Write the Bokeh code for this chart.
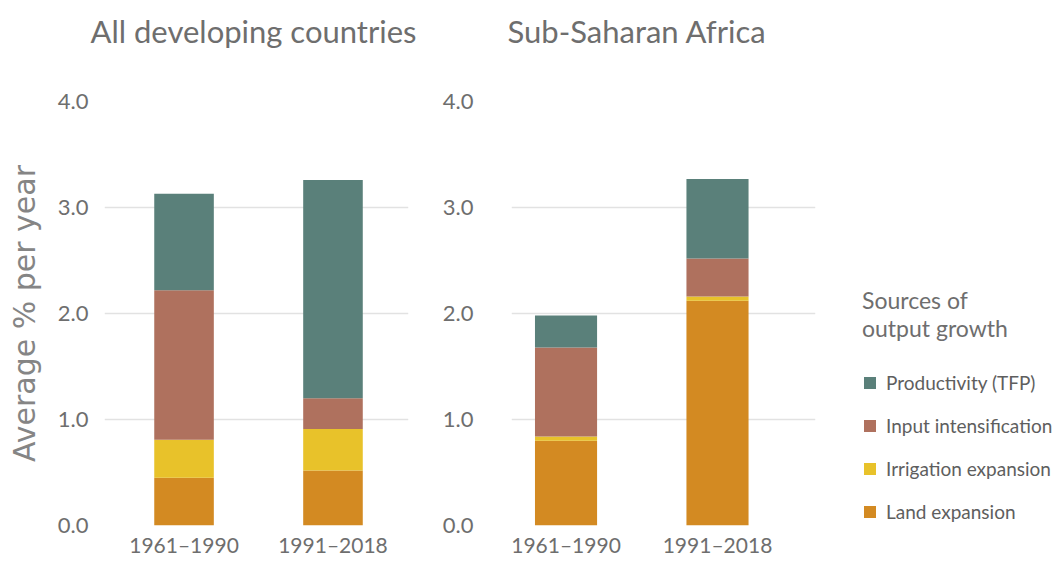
from bokeh.plotting import figure
from bokeh.layouts import row
from bokeh.models import (ColumnDataSource, Range1d, FixedTicker, NumeralTickFormatter,
                          Legend, LegendItem, Title)
from bokeh.embed import file_html
from bokeh.resources import INLINE

# ---- data ----
periods = ["1961–1990", "1991–2018"]
sources = ["Land expansion", "Irrigation expansion", "Input intensification", "Productivity (TFP)"]
colors = ["#D38A22", "#E8C22A", "#AF715E", "#5A807A"]

all_dev_land = [0.45, 0.52]
all_dev_irrigation = [0.36, 0.39]
all_dev_input = [1.41, 0.29]
all_dev_tfp = [0.91, 2.06]

ssa_land = [0.80, 2.12]
ssa_irrigation = [0.04, 0.04]
ssa_input = [0.84, 0.36]
ssa_tfp = [0.30, 0.75]

y_ticks = [0, 1, 2, 3, 4]
keys = ["land", "irrigation", "input", "tfp"]

TEXT = "#6e6e6e"
FONT = "Lato"


def make_panel(title, land, irr, inp, tfp, xr, bar_w, min_left, min_right, label_standoff, title_offset):
    src = ColumnDataSource(dict(x=list(range(len(periods))), land=land, irrigation=irr, input=inp, tfp=tfp))
    p = figure(frame_width=304, frame_height=424, x_range=Range1d(*xr), y_range=Range1d(0, 4),
               output_backend="svg", toolbar_location=None, title=None,
               min_border_left=min_left, min_border_right=min_right,
               min_border_top=101, min_border_bottom=33)
    rs = p.vbar_stack(keys, x="x", width=bar_w, source=src, color=colors, line_color=None)
    # spacer (closest to the frame) then the panel title above it
    p.add_layout(Title(text=" ", text_font_size="10px", standoff=37), "above")
    p.add_layout(Title(text=title, text_font=FONT, text_font_size="31px", text_font_style="normal",
                       text_color=TEXT, standoff=4, offset=title_offset, align="left",
                       vertical_align="bottom"), "above")
    p.outline_line_color = None
    p.background_fill_color = "white"
    p.border_fill_color = "white"
    p.xgrid.grid_line_color = None
    p.ygrid.grid_line_color = "#e2e2e2"
    p.ygrid.grid_line_width = 1.5
    p.yaxis.ticker = FixedTicker(ticks=y_ticks)
    p.yaxis.formatter = NumeralTickFormatter(format="0.0")
    p.xaxis.ticker = FixedTicker(ticks=list(range(len(periods))))
    p.xaxis.major_label_overrides = {i: s for i, s in enumerate(periods)}
    for ax in (p.xaxis[0], p.yaxis[0]):
        ax.axis_line_color = None
        ax.major_tick_line_color = None
        ax.minor_tick_line_color = None
        ax.major_tick_out = 0
        ax.major_tick_in = 0
        ax.minor_tick_out = 0
        ax.minor_tick_in = 0
        ax.major_label_text_font = FONT
        ax.major_label_text_color = TEXT
    p.yaxis.major_label_text_font_size = "22px"
    p.xaxis.major_label_text_font_size = "21px"
    p.yaxis.major_label_standoff = label_standoff
    p.xaxis.major_label_standoff = 6
    return p, rs


p1, r1 = make_panel("All developing countries", all_dev_land, all_dev_irrigation, all_dev_input, all_dev_tfp,
                    (-0.534, 1.507), 0.40, 104, 20, 16, -14)
p1.yaxis.axis_label = "Average % per year"
p1.yaxis.axis_label_text_font = "DejaVu Sans"
p1.yaxis.axis_label_text_font_size = "30px"
p1.yaxis.axis_label_text_font_style = "normal"
p1.yaxis.axis_label_text_color = "#858585"
p1.yaxis.axis_label_standoff = 13

p2, r2 = make_panel("Sub-Saharan Africa", ssa_land, ssa_irrigation, ssa_input, ssa_tfp,
                    (-0.36, 1.647), 0.41, 83, 232, 38, -4)

items = [LegendItem(label=sources[i], renderers=[r2[i]]) for i in reversed(range(len(sources)))]
legend = Legend(items=items, location=(47, 2), title="Sources of\noutput growth",
                margin=0, padding=0, border_line_color=None, background_fill_alpha=0,
                glyph_width=15, glyph_height=15, label_height=22, spacing=20, label_standoff=9,
                label_text_font=FONT, label_text_font_size="19px", label_text_color="#5e5e5e",
                title_text_font=FONT, title_text_font_size="23px", title_text_font_style="normal",
                title_text_color=TEXT, title_standoff=29)
p2.add_layout(legend, "right")

layout = row(p1, p2)
open("out.html", "w").write(file_html(layout, INLINE))
